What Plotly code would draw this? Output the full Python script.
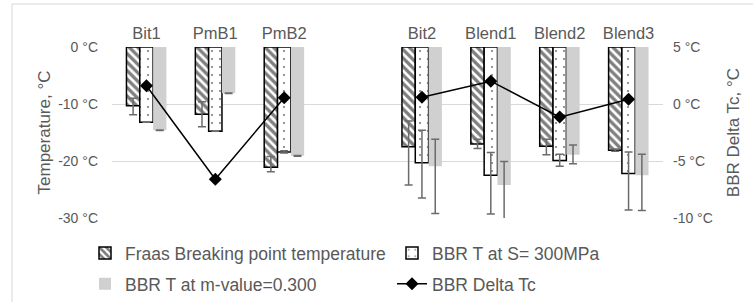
import plotly.graph_objects as go

categories = ["Bit1", "PmB1", "PmB2", " ", "Bit2", "Blend1", "Blend2", "Blend3"]

fraas = [-10.3, -11.8, -21.1, None, -17.5, -17.0, -17.4, -18.1]
fraas_err_plus = [1.3, 2.2, 1.9, 0, 4.5, 0.8, 1.2, 0.2]
fraas_err_minus = [1.6, 2.2, 0.8, 0, 6.7, 0.8, 1.5, 0.2]

bbr_s = [-13.2, -14.8, -18.4, None, -20.3, -22.5, -19.9, -22.2]
bbr_s_err_plus = [0, 0, 0.2, 0, 5.7, 4.0, 1.1, 3.8]
bbr_s_err_minus = [0, 0, 0.2, 0, 6.2, 6.8, 1.0, 6.4]

bbr_m = [-14.6, -8.1, -19.1, None, -20.9, -24.2, -18.9, -22.5]
bbr_m_err_plus = [0.05, 0.05, 0.05, 0, 4.7, 4.1, 1.7, 3.7]
bbr_m_err_minus = [0.05, 0.05, 0.05, 0, 8.3, 6.8, 1.6, 6.2]

delta_tc = [1.6, -6.6, 0.55, None, 0.6, 2.0, -1.15, 0.42]

left_tickvals = [0, -10, -20, -30]
left_ticktext = ["0 °C", "-10 °C", "-20 °C", "-30 °C"]
right_tickvals = [5, 0, -5, -10]
right_ticktext = ["5 °C", "0 °C", "-5 °C", "-10 °C"]

GREY_TXT = "#595959"
ERR_COL = "#6b6b6b"
FONT = "Liberation Sans, Arial, sans-serif"

def err(plus, minus):
    return dict(type="data", symmetric=False, array=plus, arrayminus=minus,
                color=ERR_COL, thickness=1.5, width=4)

fig = go.Figure()
fig.add_trace(go.Bar(
    x=categories, y=fraas, name="Fraas Breaking point temperature",
    marker=dict(color="white", line=dict(color="black", width=1.5),
                pattern=dict(shape="\\", fgcolor="black", bgcolor="white",
                             size=6, solidity=0.55)),
    error_y=err(fraas_err_plus, fraas_err_minus), legend="legend"))
fig.add_trace(go.Bar(
    x=categories, y=bbr_s, name="BBR T at S= 300MPa",
    marker=dict(color="white", line=dict(color="black", width=1.5),
                pattern=dict(shape=".", fgcolor="black", bgcolor="white",
                             size=8, solidity=0.06)),
    error_y=err(bbr_s_err_plus, bbr_s_err_minus), legend="legend"))
fig.add_trace(go.Bar(
    x=categories, y=bbr_m, name="BBR T at m-value=0.300",
    marker=dict(color="#d0d0d0", line=dict(width=0)),
    error_y=err(bbr_m_err_plus, bbr_m_err_minus), legend="legend2"))
fig.add_trace(go.Scatter(
    x=categories, y=delta_tc, name="BBR Delta Tc", yaxis="y2",
    mode="lines+markers", connectgaps=False,
    line=dict(color="black", width=1.5),
    marker=dict(symbol="diamond", size=10, color="black"),
    legend="legend2"))

legend_common = dict(orientation="h", xanchor="left", yanchor="top",
                     font=dict(family=FONT, size=17.5, color=GREY_TXT),
                     entrywidth=262, entrywidthmode="pixels",
                     bgcolor="rgba(0,0,0,0)", itemclick=False)

fig.update_layout(
    width=753, height=302,
    margin=dict(l=112, r=90, t=47, b=84, autoexpand=False),
    paper_bgcolor="white", plot_bgcolor="white",
    font=dict(family=FONT, size=14, color=GREY_TXT),
    barmode="group", bargap=0.42, bargroupgap=0,
    showlegend=True,
    legend=dict(x=-0.049, y=-0.10, **legend_common),
    legend2=dict(x=-0.049, y=-0.28, **legend_common),
    xaxis=dict(type="category", side="top", showgrid=False, showline=False,
               ticks="", tickfont=dict(size=16.5, color=GREY_TXT),
               ticklabelstandoff=4, zeroline=False, automargin=False),
    yaxis=dict(range=[-30, 0], tickvals=left_tickvals, ticktext=left_ticktext,
               showgrid=True, gridcolor="#d9d9d9", gridwidth=1, zeroline=False,
               showline=False, ticks="", ticklabelstandoff=13, automargin=False,
               tickfont=dict(size=14, color=GREY_TXT),
               title=dict(text="Temperature, °C", font=dict(size=17, color=GREY_TXT),
                          standoff=3)),
    yaxis2=dict(range=[-10, 5], overlaying="y", side="right",
                tickvals=right_tickvals, ticktext=right_ticktext,
                showgrid=False, zeroline=False, showline=False, ticks="",
                ticklabelstandoff=9, automargin=False,
                tickfont=dict(size=14, color=GREY_TXT),
                title=dict(text="BBR Delta Tc, °C", font=dict(size=17, color=GREY_TXT),
                           standoff=15)),
    shapes=[dict(type="rect", xref="paper", yref="paper",
                 x0=-0.1815, x1=1.3, y0=-0.7, y1=1.2515,
                 line=dict(color="#d9d9d9", width=1), fillcolor="rgba(0,0,0,0)",
                 layer="below")],
)

fig.write_html("out.html", config={"displayModeBar": False},
               post_script="document.body.style.margin='0';document.body.style.overflow='hidden';")
